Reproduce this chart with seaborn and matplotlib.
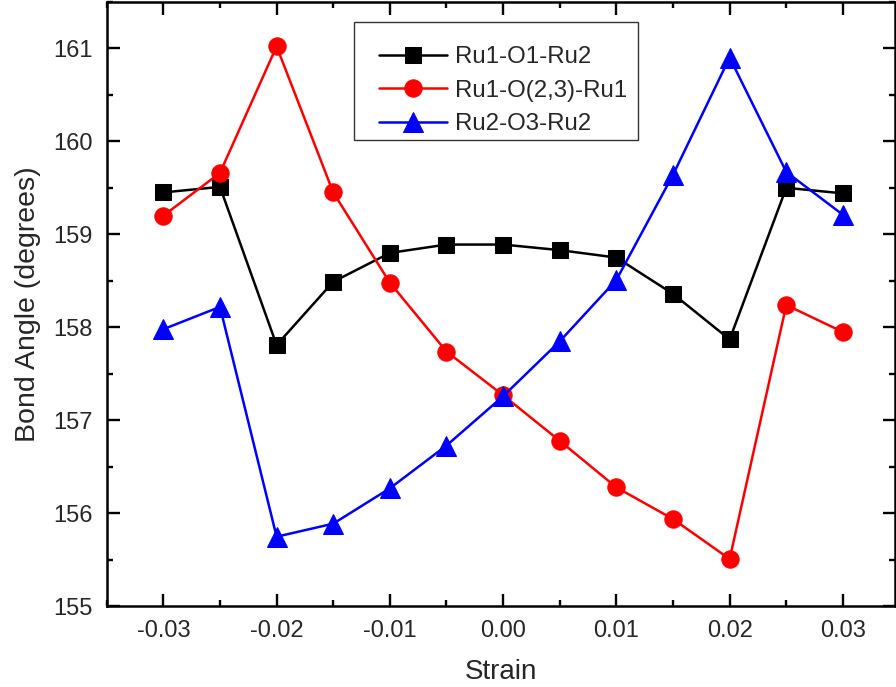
import numpy as np
import pandas as pd
import matplotlib
matplotlib.use("Agg")
import matplotlib.pyplot as plt
import seaborn as sns
from matplotlib.ticker import MultipleLocator
from matplotlib.patches import Rectangle

# Strain values and bond angles
strain = [-0.03, -0.025, -0.02, -0.015, -0.01, -0.005, 0.0, 0.005, 0.01, 0.015, 0.02, 0.025, 0.03]
ru1_o1_ru2 = [159.45, 159.51, 157.81, 158.49, 158.80, 158.89, 158.89, 158.83, 158.75, 158.36, 157.87, 159.50, 159.44]
ru1_o23_ru1 = [159.20, 159.66, 161.02, 159.45, 158.48, 157.74, 157.27, 156.78, 156.28, 155.94, 155.51, 158.24, 157.95]
ru2_o3_ru2 = [157.98, 158.22, 155.75, 155.89, 156.27, 156.73, 157.26, 157.85, 158.51, 159.64, 160.90, 159.67, 159.21]

labels = ["Ru1-O1-Ru2", "Ru1-O(2,3)-Ru1", "Ru2-O3-Ru2"]
colors = ["black", "red", "blue"]
markers = ["s", "o", "^"]
msizes = [11, 12.5, 14]

sns.set_style("ticks")
plt.rcParams["font.family"] = ["Liberation Sans", "DejaVu Sans"]

fig = plt.figure(figsize=(8.96, 6.87), dpi=100)
ax = fig.add_axes([0.1191, 0.1172, 0.8798, 0.8803])

for vals, lab, c, m, ms in zip([ru1_o1_ru2, ru1_o23_ru1, ru2_o3_ru2], labels, colors, markers, msizes):
    df = pd.DataFrame({"Strain": strain, "Angle": vals})
    sns.lineplot(data=df, x="Strain", y="Angle", ax=ax, color=c, marker=m,
                 markersize=ms, markeredgecolor=c, linewidth=1.8, label=lab)

ax.set_xlim(-0.035, 0.0346)
ax.set_ylim(155, 161.5)
ax.xaxis.set_minor_locator(MultipleLocator(0.005))
ax.yaxis.set_minor_locator(MultipleLocator(0.5))
ax.set_xticks([-0.03, -0.02, -0.01, 0.0, 0.01, 0.02, 0.03])
ax.set_xticklabels(["-0.03", "-0.02", "-0.01", "0.00", "0.01", "0.02", "0.03"])
ax.set_yticks([155, 156, 157, 158, 159, 160, 161])

ax.tick_params(which="both", direction="in", top=True, right=True, width=1.7,
               labelsize=17, pad=10, color="black")
ax.tick_params(which="major", length=9)
ax.tick_params(which="minor", length=4.5)
for sp in ax.spines.values():
    sp.set_linewidth(1.8)
    sp.set_color("black")

ax.set_xlabel("Strain", fontsize=20, labelpad=12)
ax.set_ylabel("Bond Angle (degrees)", fontsize=20.5, labelpad=9)

# legend box drawn separately so the padding matches the original
ax.add_patch(Rectangle((0.3141, 0.7713), 0.3595, 0.1946, transform=ax.transAxes,
                       fill=False, edgecolor="#333333", linewidth=1.0, zorder=5))
leg = ax.legend(loc="upper left", bbox_to_anchor=(0.3454, 0.926), borderaxespad=0,
                fontsize=17.3, frameon=False, handlelength=2.85, borderpad=0,
                handletextpad=0.3, labelspacing=0.47, markerscale=1.0)

fig.savefig("out.png", dpi=100)
